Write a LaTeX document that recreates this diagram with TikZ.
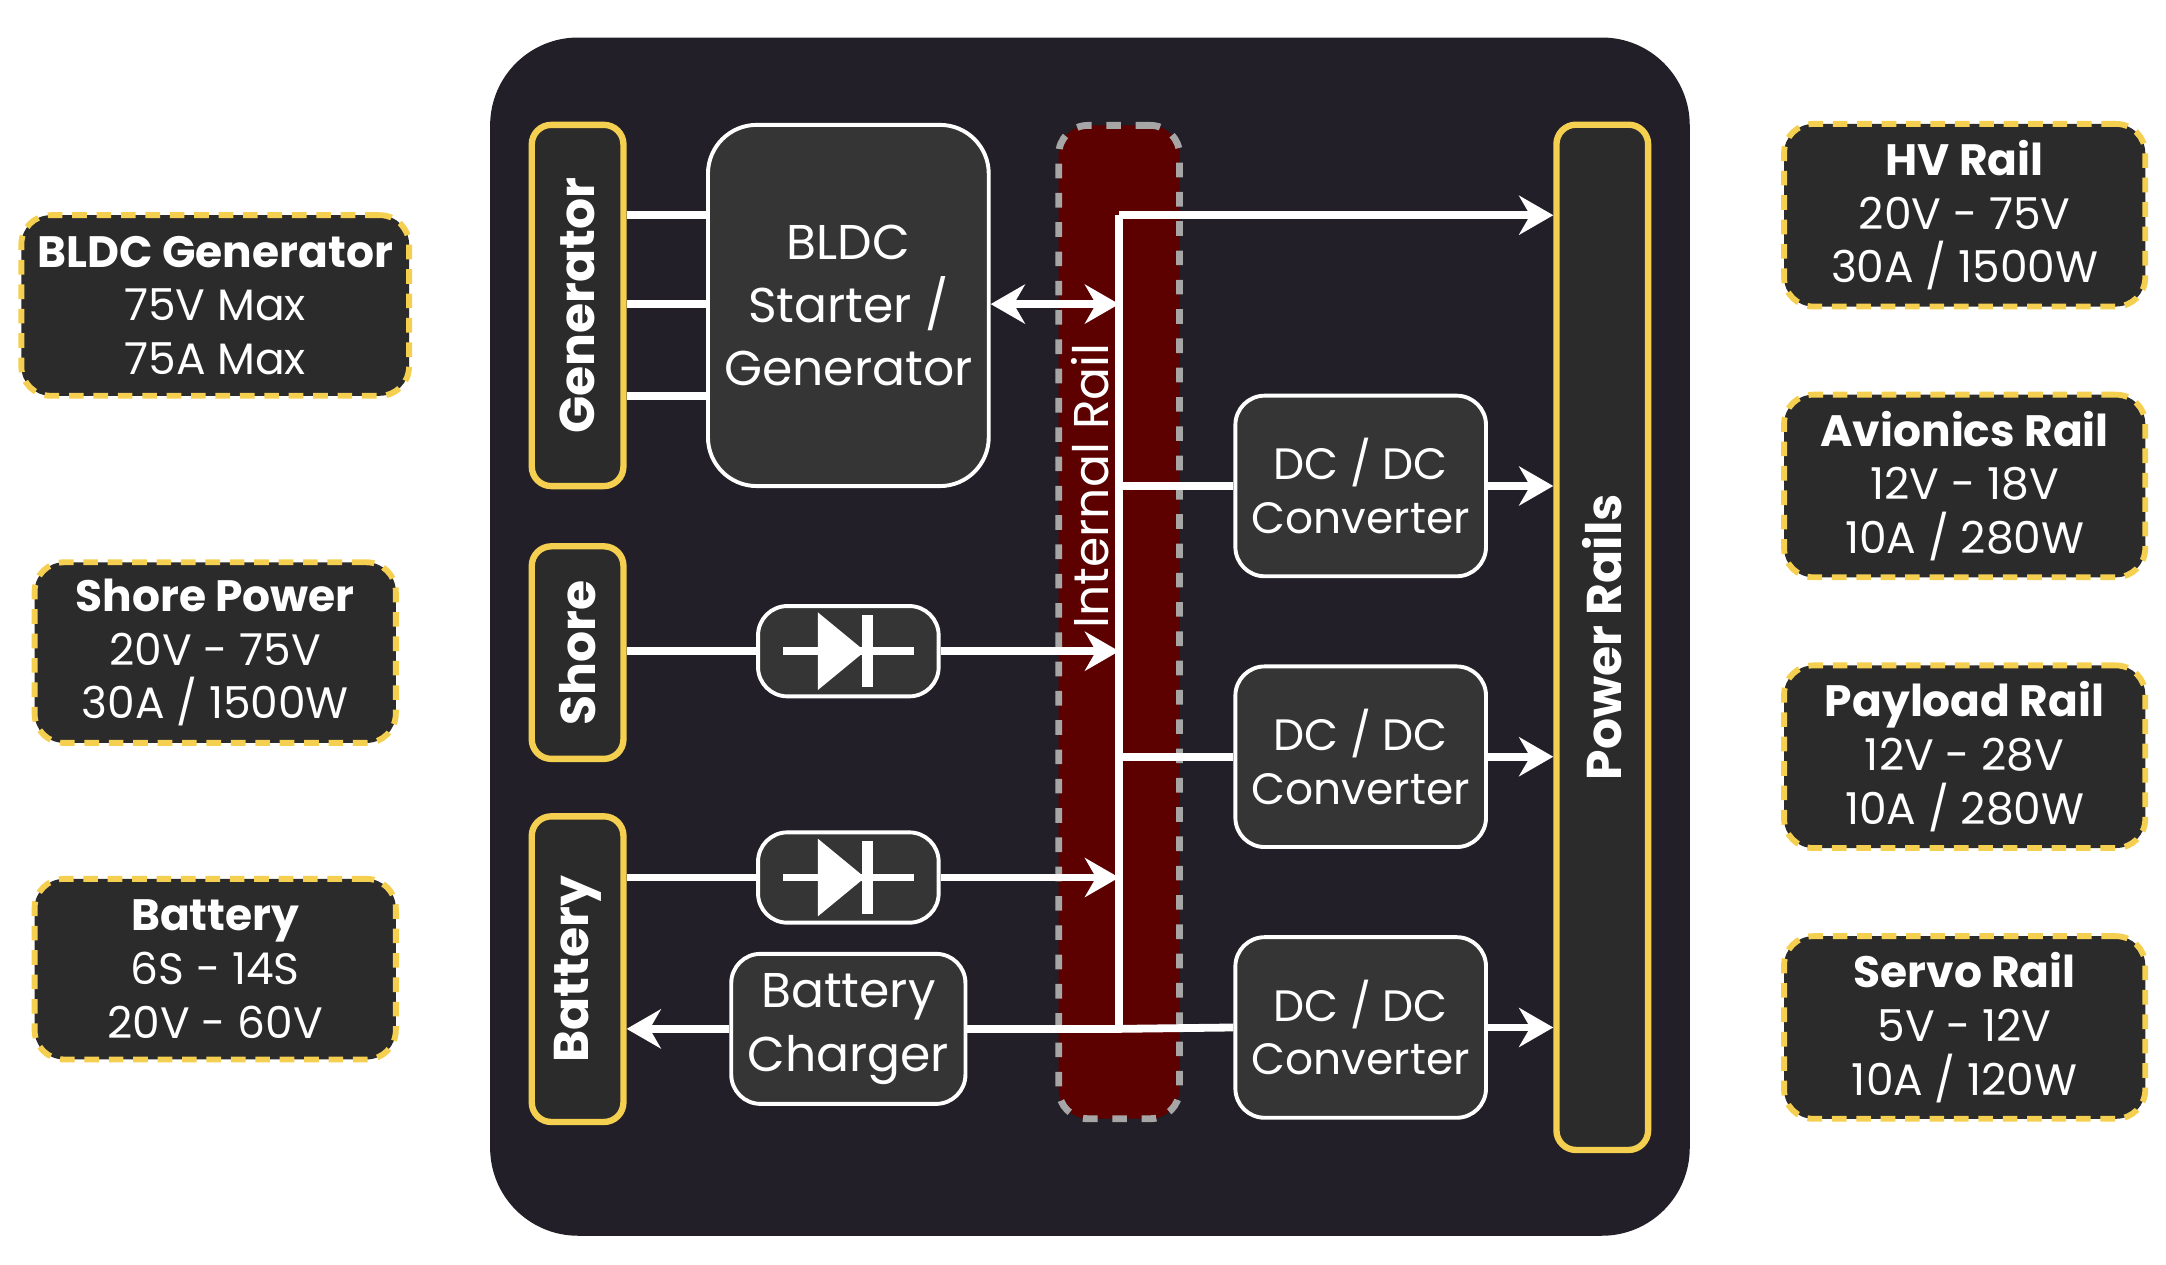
\documentclass[tikz,border=0pt]{standalone}
\usepackage{fontspec}
\setmainfont{Poppins}
\usetikzlibrary{positioning}
\usetikzlibrary{arrows.meta}
\usetikzlibrary{calc}
\definecolor{panel}{HTML}{221F28}
\definecolor{boxfill}{HTML}{2B2B2B}
\definecolor{blockfill}{HTML}{353535}
\definecolor{railred}{HTML}{5C0000}
\definecolor{gold}{HTML}{F5CF4F}
\begin{document}
\begin{tikzpicture}[x=0.01cm, y=-0.01cm,
  font=\fontsize{9}{11}\selectfont, text=white,
  ext/.style={draw=gold, densely dashed, line width=1.2pt, fill=boxfill, rounded corners=6pt, align=center, minimum width=2.6cm, minimum height=1.3cm},
  port/.style={draw=gold, line width=1.3pt, fill=boxfill, rounded corners=4pt, minimum width=0.66cm},
  blk/.style={draw=white, line width=0.8pt, fill=blockfill, rounded corners=6pt, align=center, minimum width=1.3cm},
  wire/.style={white, line width=1.6pt},
  arrow/.style={wire, -{Stealth[length=7pt,width=8pt]}}
]
\useasboundingbox (0,0) rectangle (1560,911);

% panel
\fill[panel, rounded corners=18pt] (353,27) rectangle (1217,890);

% Inputs
\node[ext] (gen) at (155,220) {\textbf{BLDC Generator}\\75V Max\\75A Max};
\node[ext] (shore) at (155,470) {\textbf{Shore Power}\\20V - 75V\\30A / 1500W};
\node[ext] (bat) at (155,698) {\textbf{Battery}\\6S - 14S\\20V - 60V};

% Outputs
\node[ext] (hv) at (1415,155) {\textbf{HV Rail}\\20V - 75V\\30A / 1500W};
\node[ext] (avi) at (1415,350) {\textbf{Avionics Rail}\\12V - 18V\\10A / 280W};
\node[ext] (pay) at (1415,545) {\textbf{Payload Rail}\\12V - 28V\\10A / 280W};
\node[ext] (servo) at (1415,740) {\textbf{Servo Rail}\\5V - 12V\\10A / 120W};

% Internal rail
\node[draw=gray!70, dashed, line width=1.4pt, fill=railred, rounded corners=6pt, minimum width=0.87cm, minimum height=7.15cm] (rail) at (806,448) {};
\node[rotate=90, font=\fontsize{10}{12}\selectfont] at (785,350) {Internal Rail};

% Ports
\node[port, minimum height=2.6cm] (pgen) at (416,220) {};
\node[rotate=90, font=\bfseries\fontsize{10}{12}\selectfont] at (pgen) {Generator};
\node[port, minimum height=1.53cm] (pshore) at (416,470) {};
\node[rotate=90, font=\bfseries\fontsize{10}{12}\selectfont] at (pshore) {Shore};
\node[port, minimum height=2.2cm] (pbat) at (416,698) {};
\node[rotate=90, font=\bfseries\fontsize{10}{12}\selectfont] at (pbat) {Battery};
\node[port, minimum height=7.38cm] (prails) at (1154,459) {};
\node[rotate=90, font=\bfseries\fontsize{10}{12}\selectfont] at (prails) {Power Rails};

% Blocks
\node[blk, minimum width=1.72cm, minimum height=2.6cm, rounded corners=10pt, font=\fontsize{10}{13}\selectfont] (starter) at (611,220) {BLDC\\Starter /\\Generator};
\node[blk, minimum height=0.65cm] (dshore) at (611,469) {};
\node[blk, minimum height=0.65cm] (dbat) at (611,632) {};
\node[blk, minimum height=1.08cm, font=\fontsize{10}{13}\selectfont] (charger) at (611,741) {Battery\\Charger};
\node[blk, minimum height=1.3cm] (dc1) at (980,350) {DC / DC\\Converter};
\node[blk, minimum height=1.3cm] (dc2) at (980,545) {DC / DC\\Converter};
\node[blk, minimum height=1.3cm] (dc3) at (980,740) {DC / DC\\Converter};

% diode symbols
\foreach \d in {dshore, dbat} {
  \draw[white, line width=1.6pt] ($(\d)+(-47,0)$) -- ($(\d)+(47,0)$);
  \fill[white] ($(\d)+(-22,-28)$) -- ($(\d)+(12,0)$) -- ($(\d)+(-22,28)$) -- cycle;
  \draw[white, line width=2.2pt] ($(\d)+(14,-26)$) -- ($(\d)+(14,26)$);
}

% bus
\coordinate (btop) at (806,155);
\coordinate (bbot) at (806,741);
\draw[wire] (btop) -- (bbot);

% Generator phases
\foreach \y in {155,219,285}
  \draw[wire] (pgen.east |- 0,\y) -- (starter.west |- 0,\y);
\draw[wire, {Stealth[length=7pt,width=8pt]}-{Stealth[length=7pt,width=8pt]}] (starter.east |- 0,219) -- (806,219);

% Shore & battery
\draw[wire] (pshore.east |- dshore) -- (dshore.west);
\draw[arrow] (dshore.east) -- (806,469);
\draw[wire] (pbat.east |- dbat) -- (dbat.west);
\draw[arrow] (dbat.east) -- (806,632);
\draw[wire] (bbot) -- (charger.east |- bbot);
\draw[arrow] (charger.west |- bbot) -- (pbat.east |- bbot);

% Outputs
\draw[arrow] (btop) -- (prails.west |- btop);
\draw[wire] (806,350) -- (dc1.west);
\draw[arrow] (dc1.east) -- (prails.west |- dc1);
\draw[wire] (806,545) -- (dc2.west);
\draw[arrow] (dc2.east) -- (prails.west |- dc2);
\draw[wire] (bbot) -- (dc3.west);
\draw[arrow] (dc3.east) -- (prails.west |- dc3);
\end{tikzpicture}
\end{document}
